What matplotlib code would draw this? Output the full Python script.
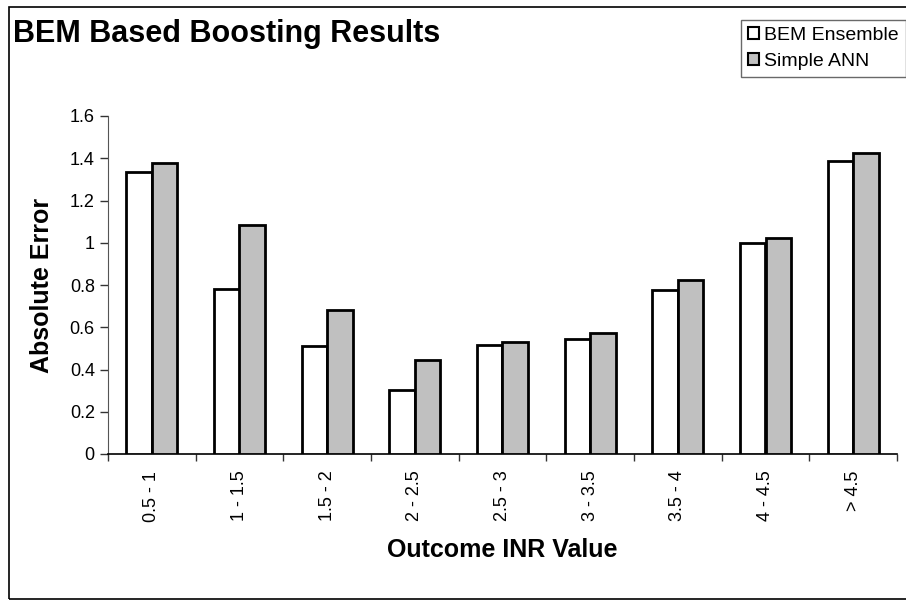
import matplotlib
matplotlib.use("Agg")
import matplotlib.pyplot as plt
import numpy as np
from matplotlib.patches import Rectangle

plt.rcParams['font.family'] = ['Liberation Sans', 'DejaVu Sans']

categories = ["0.5 - 1", "1 - 1.5", "1.5 - 2", "2 - 2.5", "2.5 - 3",
              "3 - 3.5", "3.5 - 4", "4 - 4.5", "> 4.5"]
bem_ensemble = [1.337, 0.782, 0.510, 0.304, 0.518, 0.543, 0.774, 1.000, 1.388]
simple_ann = [1.377, 1.086, 0.682, 0.443, 0.528, 0.575, 0.826, 1.024, 1.423]
series_names = ["BEM Ensemble", "Simple ANN"]
yticks = [0, 0.2, 0.4, 0.6, 0.8, 1, 1.2, 1.4, 1.6]
ytick_labels = ["0", "0.2", "0.4", "0.6", "0.8", "1", "1.2", "1.4", "1.6"]

W, H = 906, 600
fig = plt.figure(figsize=(W / 100, H / 100), dpi=100)
ax = fig.add_axes([108 / W, 1 - 454 / H, (897 - 108) / W, (454 - 116) / H])

x = np.arange(len(categories))
bw = 0.29
ax.bar(x - bw / 2, bem_ensemble, bw, color='white', edgecolor='black',
       linewidth=2, label=series_names[0], zorder=3)
ax.bar(x + bw / 2, simple_ann, bw, color='#c0c0c0', edgecolor='black',
       linewidth=2, label=series_names[1], zorder=3)

ax.set_xlim(-0.5, len(categories) - 0.5)
ax.set_ylim(0, 1.6)
ax.set_yticks(yticks)
ax.set_yticklabels(ytick_labels, fontsize=13)
ax.set_xticks(x)
ax.set_xticklabels(categories, rotation=90, fontsize=13)
ax.tick_params(axis='x', length=0, pad=12)
ax.set_xticks(np.arange(len(categories) + 1) - 0.5, minor=True)
ax.tick_params(axis='x', which='minor', length=5, width=1, color='#333333', direction='out')
ax.tick_params(axis='y', length=5.5, width=1, color='#333333', direction='out', pad=4)

for s in ['top', 'right']:
    ax.spines[s].set_visible(False)
ax.spines['left'].set_color('#555555')
ax.spines['bottom'].set_color('black')
ax.spines['bottom'].set_linewidth(1.2)

ax.set_ylabel("Absolute Error", fontsize=18, fontweight='bold')
ax.set_xlabel("Outcome INR Value", fontsize=18, fontweight='bold')
ax.yaxis.set_label_coords((42 - 108) / (897 - 108), (454 - 285) / (454 - 116))
ax.xaxis.set_label_coords(0.5, -(550 - 454) / (454 - 116))
ax.xaxis.label.set_va('center')
ax.yaxis.label.set_va('center')

fig.text(13 / W, 1 - 42 / H, "BEM Based Boosting Results", fontsize=22,
         fontweight='bold', ha='left', va='baseline')

leg = fig.legend(loc='upper left', bbox_to_anchor=(741 / W, 1 - 20 / H),
                 fontsize=14, frameon=True, fancybox=False, handlelength=0.57,
                 handleheight=0.57, handletextpad=0.26, borderpad=0.36,
                 labelspacing=0.44, borderaxespad=0)
leg.get_frame().set_edgecolor('#444444')
leg.get_frame().set_linewidth(1)
for h in leg.legend_handles:
    h.set_linewidth(1.5)

fig.patches.append(Rectangle((9 / W, 1 - 599 / H), 1.0, (599 - 7) / H,
                             transform=fig.transFigure, fill=False,
                             edgecolor='black', linewidth=1.2))

fig.savefig("out.png", dpi=100)
